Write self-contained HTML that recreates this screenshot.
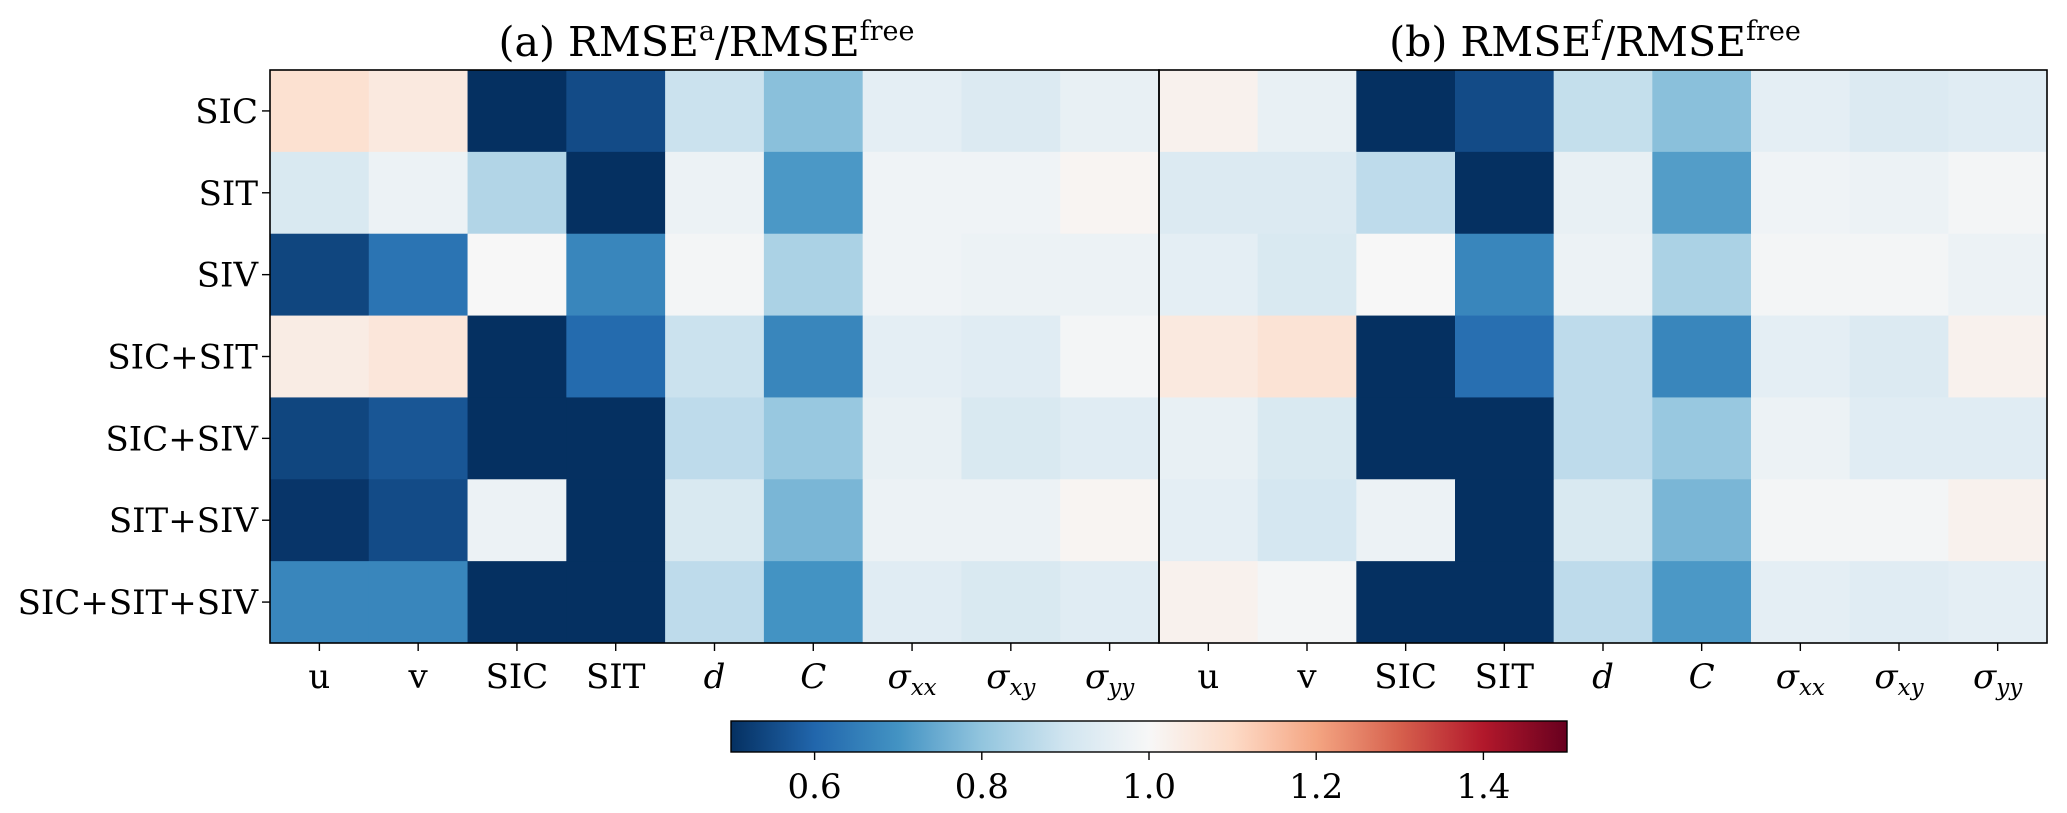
<!DOCTYPE html>
<html><head><meta charset="utf-8"><style>
body{margin:0;background:#fff;}
svg{display:block;font-family:"DejaVu Serif","Liberation Serif",serif;}
</style></head><body>
<svg id="chart" width="2067" height="813" viewBox="0 0 2067 813" xmlns="http://www.w3.org/2000/svg">
<defs><linearGradient id="cbgrad" x1="0" x2="1" y1="0" y2="0"></linearGradient></defs>
<g id="cells"></g><g id="axes"></g>
</svg>
<script>
const rowLabels = ["SIC","SIT","SIV","SIC+SIT","SIC+SIV","SIT+SIV","SIC+SIT+SIV"];
const colLabels = ["u","v","SIC","SIT","d","C","σxx","σxy","σyy"];
const panelTitles = ["(a) RMSE|a|/RMSE|free","(b) RMSE|f|/RMSE|free"];
const valuesA = [
 [1.08,1.05,0.5,0.55,0.89,0.79,0.95,0.93,0.96],
 [0.92,0.97,0.85,0.5,0.97,0.71,0.98,0.98,1.01],
 [0.54,0.63,1.0,0.67,0.99,0.84,0.98,0.97,0.97],
 [1.04,1.06,0.5,0.61,0.89,0.67,0.95,0.94,0.99],
 [0.54,0.57,0.5,0.5,0.87,0.81,0.96,0.92,0.94],
 [0.51,0.55,0.97,0.5,0.92,0.77,0.97,0.97,1.01],
 [0.67,0.67,0.5,0.5,0.87,0.70,0.94,0.92,0.94]];
const valuesB = [
 [1.02,0.96,0.5,0.55,0.88,0.79,0.95,0.93,0.94],
 [0.93,0.93,0.87,0.5,0.96,0.72,0.98,0.97,0.99],
 [0.95,0.92,1.0,0.67,0.97,0.84,0.99,0.99,0.97],
 [1.05,1.07,0.5,0.62,0.87,0.67,0.95,0.93,1.02],
 [0.96,0.92,0.5,0.5,0.87,0.81,0.97,0.94,0.94],
 [0.95,0.91,0.97,0.5,0.92,0.77,0.99,0.99,1.02],
 [1.02,0.99,0.5,0.5,0.87,0.71,0.95,0.94,0.95]];
const cbTicks = [0.6,0.8,1.0,1.2,1.4];
const vmin = 0.5, vmax = 1.5;

const NS="http://www.w3.org/2000/svg";
const svgEl=document.getElementById('chart');
const cellsG=document.getElementById('cells'), axG=document.getElementById('axes');
const rdbu=["#053061","#2166ac","#4393c3","#92c5de","#d1e5f0","#f7f7f7","#fddbc7","#f4a582","#d6604d","#b2182b","#67001f"];
function hex(h){return [1,3,5].map(i=>parseInt(h.substr(i,2),16));}
function cmap(v){let t=Math.max(0,Math.min(1,(v-vmin)/(vmax-vmin)))*10;let i=Math.min(9,Math.floor(t));let f=t-i;
 let a=hex(rdbu[i]),b=hex(rdbu[i+1]);return 'rgb('+a.map((x,k)=>Math.round(x+(b[k]-x)*f)).join(',')+')';}
function mk(tag,attrs,parent,text){const e=document.createElementNS(NS,tag);for(const k in attrs)e.setAttribute(k,attrs[k]);if(text!==undefined)e.textContent=text;parent.appendChild(e);return e;}
const plotTop=70,plotBottom=643,left0=270,mid=1159,rightEdge=2047;
const panels=[[left0,mid,valuesA],[mid,rightEdge,valuesB]];
const rh=(plotBottom-plotTop)/rowLabels.length;
function yPos(r){return plotTop+r*rh;}
panels.forEach((p,pi)=>{
 const [x0,x1,vals]=p; const cw=(x1-x0)/colLabels.length;
 const xPos=c=>x0+c*cw;
 vals.forEach((row,r)=>row.forEach((v,c)=>{
  const el=mk('rect',{x:xPos(c),y:yPos(r),width:cw+0.5,height:rh+0.5,fill:cmap(v)},cellsG);
  
  
 }));
 const fr=mk('rect',{x:x0,y:plotTop,width:x1-x0,height:plotBottom-plotTop,fill:'none',stroke:'#000','stroke-width':1.6},axG);
 
 
 colLabels.forEach((lab,c)=>{
  const cx=xPos(c)+cw/2;
  mk('line',{x1:cx,x2:cx,y1:plotBottom,y2:plotBottom+8,stroke:'#000','stroke-width':1.4},axG);
  const t=mk('text',{x:cx,y:688,'text-anchor':'middle','font-size':34},axG);
  
  
  if(lab.startsWith('σ')){mk('tspan',{'font-style':'italic'},t,'σ');mk('tspan',{'font-size':23,dy:7,'font-style':'italic'},t,lab.slice(1));}
  else if(lab==='d'||lab==='C'){t.setAttribute('font-style','italic');t.textContent=lab;}
  else t.textContent=lab;
 });
 const parts=panelTitles[pi].split('|');
 const tt=mk('text',{x:(x0+x1)/2-8,y:56,'text-anchor':'middle','font-size':41},axG);
 
 
 mk('tspan',{},tt,parts[0]);mk('tspan',{'font-size':27,dy:-16},tt,parts[1]);
 mk('tspan',{dy:16},tt,parts[2]);mk('tspan',{'font-size':27,dy:-16},tt,parts[3]);
});
rowLabels.forEach((lab,r)=>{
 const cy=yPos(r)+rh/2;
 mk('line',{x1:left0-8,x2:left0,y1:cy,y2:cy,stroke:'#000','stroke-width':1.4},axG);
 const t=mk('text',{x:left0-12,y:cy+12,'text-anchor':'end','font-size':34},axG,lab);
 
 
});
const cbx0=731,cbx1=1567,cby0=721,cby1=752;
const grad=document.getElementById('cbgrad');
for(let i=0;i<=20;i++){mk('stop',{offset:(i/20),'stop-color':cmap(vmin+(vmax-vmin)*i/20)},grad);}
const cb=mk('rect',{x:cbx0,y:cby0,width:cbx1-cbx0,height:cby1-cby0,fill:'url(#cbgrad)',stroke:'#000','stroke-width':1.4},axG);


const cbX=v=>cbx0+(v-vmin)/(vmax-vmin)*(cbx1-cbx0);
cbTicks.forEach(v=>{
 mk('line',{x1:cbX(v),x2:cbX(v),y1:cby1,y2:cby1+8,stroke:'#000','stroke-width':1.4},axG);
 const t=mk('text',{x:cbX(v),y:798,'text-anchor':'middle','font-size':34},axG,v.toFixed(1));
 
 
});
</script>
</body></html>
